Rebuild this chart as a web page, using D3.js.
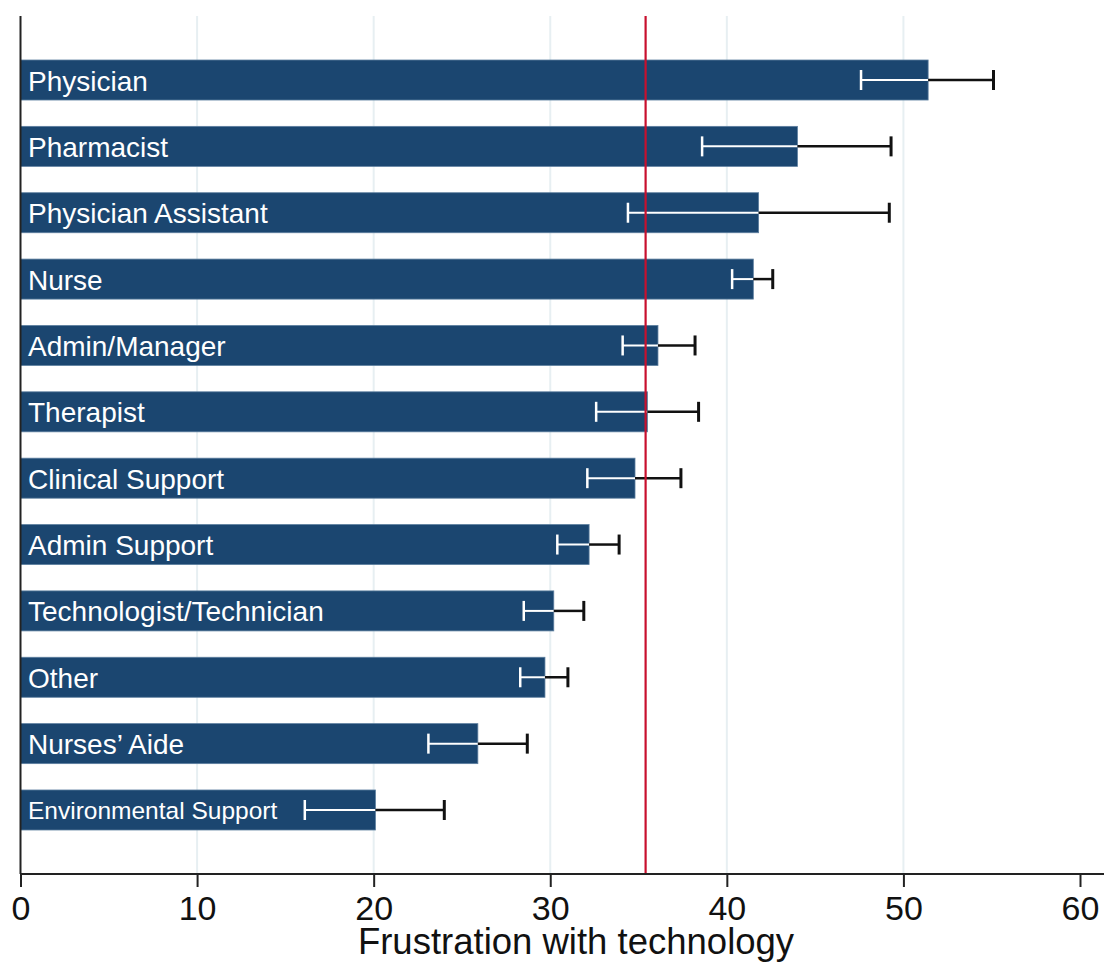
<!DOCTYPE html>
<html>
<head>
<meta charset="utf-8">
<script src="https://cdn.jsdelivr.net/npm/d3@7"></script>
<style>
  html, body { margin: 0; padding: 0; background: #fff; }
  svg { display: block; font-family: "Liberation Sans", Arial, sans-serif; }
</style>
</head>
<body>
<svg id="frustration-chart"></svg>
<script>
// values
var categories = ['Physician', 'Pharmacist', 'Physician Assistant', 'Nurse', 'Admin/Manager',
  'Therapist', 'Clinical Support', 'Admin Support', 'Technologist/Technician', 'Other',
  'Nurses\u2019 Aide', 'Environmental Support'];
var means = [51.4, 44.0, 41.8, 41.5, 36.1, 35.5, 34.8, 32.2, 30.2, 29.7, 25.9, 20.1];
var lower = [47.6, 38.6, 34.4, 40.3, 34.1, 32.6, 32.1, 30.4, 28.5, 28.3, 23.1, 16.1];
var upper = [55.1, 49.3, 49.2, 42.6, 38.2, 38.4, 37.4, 33.9, 31.9, 31.0, 28.7, 24.0];
var overallMean = 35.4;
var xTicks = [0, 10, 20, 30, 40, 50, 60];
var gridTicks = [10, 20, 30, 40, 50];
var xTitle = 'Frustration with technology';

(function () {

  var width = 1104, height = 964;
  var plot = { left: 20.5, right: 1080, top: 16, bottom: 874 };
  var barColor = '#1b4670';

  var rows = categories.map(function (c, i) {
    return { label: c, mean: means[i], lo: lower[i], hi: upper[i] };
  });

  var svg = d3.select('#frustration-chart')
    .attr('width', width)
    .attr('height', height);

  var x = d3.scaleLinear().domain([0, 60]).range([plot.left, plot.right]);
  var y = d3.scaleBand()
    .domain(categories)
    .range([plot.top, plot.bottom])
    .paddingInner(0.397)
    .paddingOuter(0.663);

  // light vertical gridlines
  svg.append('g').selectAll('line')
    .data(gridTicks)
    .enter().append('line')
    .attr('x1', function (d) { return x(d); })
    .attr('x2', function (d) { return x(d); })
    .attr('y1', plot.top)
    .attr('y2', plot.bottom)
    .attr('stroke', '#e7eff2')
    .attr('stroke-width', 2);

  var rowG = svg.append('g').selectAll('g')
    .data(rows)
    .enter().append('g');

  rowG.append('rect')
    .attr('x', x(0))
    .attr('y', function (d) { return y(d.label); })
    .attr('width', function (d) { return x(d.mean) - x(0); })
    .attr('height', y.bandwidth())
    .attr('fill', barColor)
    .attr('stroke', '#5d7f9f')
    .attr('stroke-width', 0.8);

  rowG.append('text')
    .attr('x', 28)
    .attr('y', function (d) {
      return y(d.label) + y.bandwidth() / 2 + (d.label === 'Environmental Support' ? 9 : 10.5);
    })
    .attr('fill', '#fff')
    .attr('font-size', function (d) { return d.label === 'Environmental Support' ? 24.5 : 28; })
    .text(function (d) { return d.label; });

  // error bars: white inside the bar, black outside
  var cap = 10;
  function mid(d) { return y(d.label) + y.bandwidth() / 2; }

  rowG.append('line')
    .attr('x1', function (d) { return x(d.lo); })
    .attr('x2', function (d) { return x(d.mean); })
    .attr('y1', mid).attr('y2', mid)
    .attr('stroke', '#fff').attr('stroke-width', 2);
  rowG.append('line')
    .attr('x1', function (d) { return x(d.lo); })
    .attr('x2', function (d) { return x(d.lo); })
    .attr('y1', function (d) { return mid(d) - cap; })
    .attr('y2', function (d) { return mid(d) + cap; })
    .attr('stroke', '#fff').attr('stroke-width', 2.5);
  rowG.append('line')
    .attr('x1', function (d) { return x(d.mean); })
    .attr('x2', function (d) { return x(d.hi); })
    .attr('y1', mid).attr('y2', mid)
    .attr('stroke', '#111').attr('stroke-width', 2.5);
  rowG.append('line')
    .attr('x1', function (d) { return x(d.hi); })
    .attr('x2', function (d) { return x(d.hi); })
    .attr('y1', function (d) { return mid(d) - cap; })
    .attr('y2', function (d) { return mid(d) + cap; })
    .attr('stroke', '#111').attr('stroke-width', 3);

  // overall mean line
  svg.append('line')
    .attr('x1', x(overallMean)).attr('x2', x(overallMean))
    .attr('y1', plot.top).attr('y2', plot.bottom)
    .attr('stroke', '#c8102e')
    .attr('stroke-width', 2.2);

  // y axis line
  svg.append('line')
    .attr('x1', plot.left).attr('x2', plot.left)
    .attr('y1', plot.top).attr('y2', plot.bottom)
    .attr('stroke', '#222').attr('stroke-width', 2);

  // x axis
  var xAxis = svg.append('g')
    .attr('transform', 'translate(0,' + plot.bottom + ')')
    .call(d3.axisBottom(x).tickValues(xTicks).tickSize(13).tickPadding(9).tickSizeOuter(0));
  xAxis.select('.domain').attr('stroke', '#222').attr('stroke-width', 2)
    .attr('d', 'M' + plot.left + ',0H' + width);
  xAxis.selectAll('.tick line').attr('stroke', '#222').attr('stroke-width', 2);
  xAxis.selectAll('.tick text')
    .attr('font-size', 34)
    .attr('font-family', '"Liberation Sans", Arial, sans-serif')
    .attr('fill', '#111');

  svg.append('text')
    .attr('x', 576)
    .attr('y', 954)
    .attr('text-anchor', 'middle')
    .attr('font-size', 36.5)
    .attr('fill', '#111')
    .text(xTitle);

})();
</script>
</body>
</html>
